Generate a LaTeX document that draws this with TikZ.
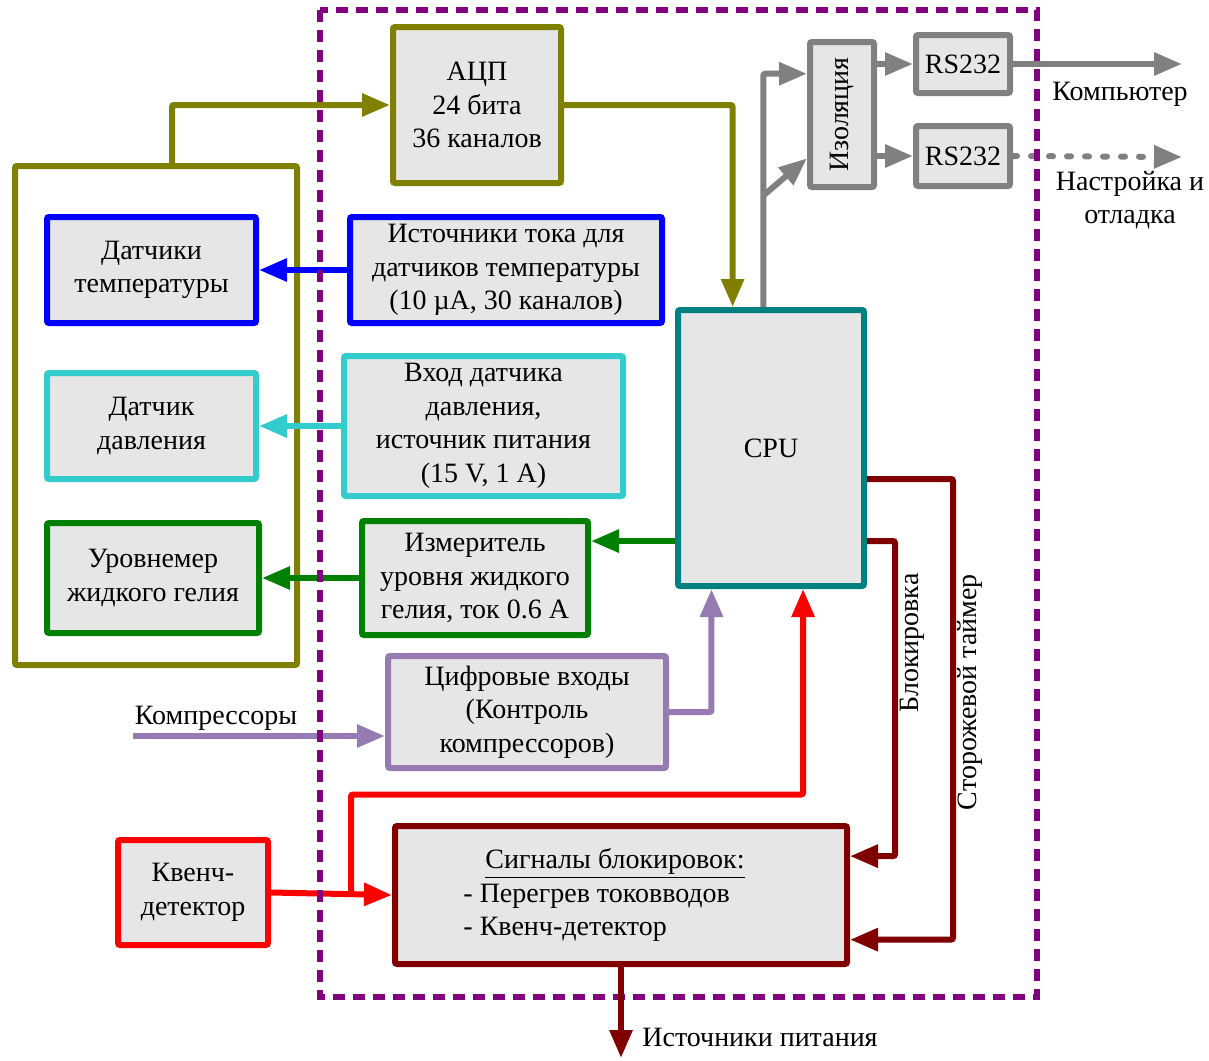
\documentclass[tikz,border=0pt]{standalone}
\usepackage{fontspec}
\setmainfont{Liberation Serif}
\usetikzlibrary{positioning,calc,arrows.meta}
\definecolor{boxfill}{RGB}{230,230,230}
\definecolor{olivec}{RGB}{128,128,0}
\definecolor{tealc}{RGB}{0,128,128}
\definecolor{cyanc}{RGB}{51,204,204}
\definecolor{greenc}{RGB}{0,128,0}
\definecolor{lavc}{RGB}{150,123,178}
\definecolor{darkredc}{RGB}{128,0,0}
\definecolor{purplec}{RGB}{128,0,128}
\definecolor{grayc}{RGB}{128,128,128}

\begin{document}
\begin{tikzpicture}[x=0.5pt,y=-0.5pt,
        font=\fontsize{14}{16.8}\selectfont,
        blk/.style={draw, fill=boxfill, line width=3pt, rounded corners=1pt, align=center, inner sep=1pt},
        wire/.style={line width=3pt, rounded corners=1pt},
        link/.style={wire, -{Triangle[length=14pt,width=11pt]}}]
        \useasboundingbox (0,0) rectangle (1209,1060);

        \node[blk, draw=olivec, fill=white, minimum width=141pt, minimum height=249.5pt] (sensors) at (156,415.5) {};
        \node[blk, draw=olivec, minimum width=84pt, minimum height=78pt] (adc) at (477,105) {АЦП\\24 бита\\36 каналов};
        \node[blk, draw=tealc, minimum width=93pt, minimum height=138pt] (cpu) at (771,448) {CPU};
        \node[blk, draw=grayc, minimum width=32pt, minimum height=72.5pt] (iso) at (842,114.5) {\rotatebox{90}{Изоляция}};
        \node[blk, draw=grayc, minimum width=47pt, minimum height=29pt] (rsa) at (963,64) {RS232};
        \node[blk, draw=grayc, minimum width=47pt, minimum height=30pt] (rsb) at (963,156) {RS232};
        \node[blk, draw=blue, minimum width=104.5pt, minimum height=53pt] (temp) at (151.5,270) {Датчики\\температуры};
        \node[blk, draw=blue, minimum width=156pt, minimum height=53pt] (tempsrc) at (506,270) {Источники тока для\\датчиков температуры\\(10 µA, 30 каналов)};
        \node[blk, draw=cyanc, minimum width=104.5pt, minimum height=53pt] (press) at (151.5,426) {Датчик\\давления};
        \node[blk, draw=cyanc, minimum width=139.5pt, minimum height=70pt] (presssrc) at (483.5,426) {Вход датчика\\давления,\\источник питания\\(15 V, 1 A)};
        \node[blk, draw=greenc, minimum width=106pt, minimum height=55pt] (level) at (153,578) {Уровнемер\\жидкого гелия};
        \node[blk, draw=greenc, minimum width=113pt, minimum height=57pt] (levelsrc) at (475,578) {Измеритель\\уровня жидкого\\гелия, ток 0.6 A};
        \node[blk, draw=lavc, minimum width=139pt, minimum height=56pt] (digin) at (527,712) {Цифровые входы\\(Контроль\\компрессоров)};
        \node[blk, draw=red, minimum width=75pt, minimum height=52.5pt] (quench) at (193,892.5) {Квенч-\\детектор};
        \node[blk, draw=darkredc, minimum width=226pt, minimum height=69pt, align=left] (lock) at (621,895) {\hspace*{11pt}\underline{Сигналы блокировок:}\hspace*{17pt}\\- Перегрев токовводов\\- Квенч-детектор};

        \node (pclabel) at (1120,94) {Компьютер};
        \node[align=center] (dbglabel) at (1130,200) {Настройка и\\отладка};
        \node (complabel) at (216,718) {Компрессоры};
        \node (psulabel) at (760,1037) {Источники питания};
        \node[rotate=90] (locklabel) at (912,643) {Блокировка};
        \node[rotate=90] (wdlabel) at (970,692) {Сторожевой таймер};

        \coordinate (gtap) at ($(cpu.north west)!0.46!(cpu.north east)$);
        \coordinate (gbr) at (764,195);
        \coordinate (pc) at (1182,64);
        \coordinate (dbg) at (1182,157);
        \coordinate (cpuw) at ($(cpu.north west)!0.83!(cpu.south west)$);
        \coordinate (cpue1) at ($(cpu.north east)!0.61!(cpu.south east)$);
        \coordinate (cpue2) at ($(cpu.north east)!0.83!(cpu.south east)$);
        \coordinate (comp) at (133,736);
        \coordinate (qtap) at ($(quench.east)+(80,0)$);
        \coordinate (psu) at (621,1058);

        \draw[link, olivec] (sensors.north) ++(16,0) |- (adc.west);
        \draw[link, olivec] (adc.east) -| ($(cpu.north west)!0.3!(cpu.north east)$);
        \draw[link, grayc] (gtap) |- ($(iso.north west)!0.23!(iso.south west)$);
        \draw[link, grayc] (gbr) -- ($(iso.north west)!0.79!(iso.south west)$);
        \draw[link, grayc] (iso.east |- rsa.west) -- (rsa.west);
        \draw[link, grayc] (iso.east |- rsb.west) -- (rsb.west);
        \draw[link, grayc] (rsa.east) -- (pc);
        \draw[link, grayc, dash pattern=on 2pt off 7pt, line cap=round] (rsb.east) -- (dbg);
        \draw[link, blue] (tempsrc.west) -- (temp.east);
        \draw[link, cyanc] (presssrc.west) -- (press.east);
        \draw[link, greenc] (levelsrc.west) -- (level.east);
        \draw[link, greenc] (cpuw) -- (cpuw -| levelsrc.east);
        \draw[link, lavc] (comp) -- (comp -| digin.west);
        \draw[link, lavc] (digin.east) -| ($(cpu.south west)!0.19!(cpu.south east)$);
        \draw[link, red] (quench.east) -- (lock.west);
        \draw[link, red] (qtap) -- ++(0,-98) -| ($(cpu.south west)!0.667!(cpu.south east)$);
        \draw[link, darkredc] (cpue2) -- ++(28,0) |- ($(lock.north east)!0.23!(lock.south east)$);
        \draw[link, darkredc] (cpue1) -- ++(86,0) |- ($(lock.north east)!0.81!(lock.south east)$);

        \draw[purplec, line width=3pt, dash pattern=on 6pt off 4pt] (320,10) rectangle (1037,997);
        \draw[link, darkredc] (lock.south) -- (psu);
    \end{tikzpicture}
\end{document}
